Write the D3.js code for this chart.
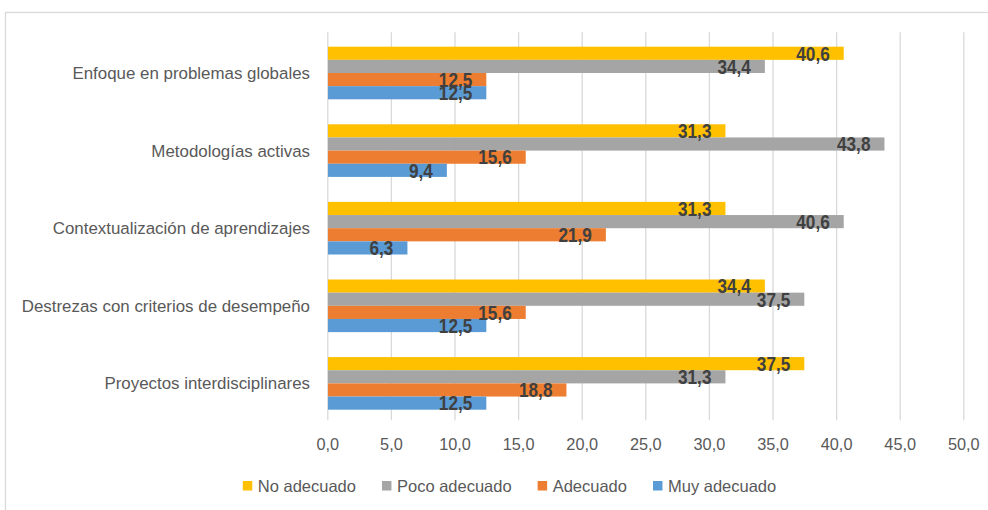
<!DOCTYPE html>
<html>
<head>
<meta charset="utf-8">
<script src="https://cdn.jsdelivr.net/npm/d3@7"></script>
<style>
  body { margin: 0; background: #fff; }
  svg { display: block; }
</style>
</head>
<body>
<div id="chart"></div>
<script>
// categories top to bottom
var categories = [
  "Enfoque en problemas globales",
  "Metodologías activas",
  "Contextualización de aprendizajes",
  "Destrezas con criterios de desempeño",
  "Proyectos interdisciplinares"
];
var seriesNames = ["No adecuado", "Poco adecuado", "Adecuado", "Muy adecuado"];
var seriesColors = ["#ffc000", "#a5a5a5", "#ed7d31", "#5b9bd5"];

// one array per series, same order as categories
var noAdecuado   = [40.6, 31.3, 31.3, 34.4, 37.5];
var pocoAdecuado = [34.4, 43.8, 40.6, 37.5, 31.3];
var adecuado     = [12.5, 15.6, 21.9, 15.6, 18.8];
var muyAdecuado  = [12.5,  9.4,  6.3, 12.5, 12.5];

var xTicks = [0, 5, 10, 15, 20, 25, 30, 35, 40, 45, 50];

var seriesValues = [noAdecuado, pocoAdecuado, adecuado, muyAdecuado];

var opt = {
  width: 988,
  height: 510,
  plot: {left: 327.3, right: 963.3, top: 34.2, bottom: 422.2}
};

var locale = d3.formatLocale({decimal: ",", thousands: ".", grouping: [3], currency: ["", ""]});
var fmt = locale.format(".1f");

var svg = d3.select("#chart").append("svg")
  .attr("width", opt.width)
  .attr("height", opt.height);

// chart frame (right/bottom edges fall outside the picture)
svg.append("rect")
  .attr("x", 5.5).attr("y", 12.5)
  .attr("width", 1000).attr("height", 520)
  .attr("fill", "none")
  .attr("stroke", "#d9d9d9")
  .attr("stroke-width", 1.3);

var x = d3.scaleLinear().domain([0, 50]).range([opt.plot.left, opt.plot.right]);
var y = d3.scaleBand().domain(categories)
  .range([opt.plot.top, opt.plot.bottom])
  .paddingInner(0.322).paddingOuter(0.161);
var ySub = d3.scaleBand().domain(seriesNames).range([0, y.bandwidth()]);

// gridlines + tick labels
var xAxis = d3.axisBottom(x).tickValues(xTicks).tickFormat(fmt)
  .tickSize(-(opt.plot.bottom - opt.plot.top)).tickPadding(18);
var gx = svg.append("g")
  .attr("transform", "translate(0," + (opt.plot.bottom - 2) + ")")
  .call(xAxis);
gx.select(".domain").remove();
gx.selectAll(".tick line").attr("stroke", "#d9d9d9").attr("stroke-width", 1.3);
gx.selectAll(".tick text")
  .attr("fill", "#595959")
  .style("font-family", "'Liberation Sans', Arial, sans-serif")
  .style("font-size", "16.3px");

// category labels
svg.append("g").selectAll("text")
  .data(categories).enter()
  .append("text")
  .attr("x", 310)
  .attr("y", function(d) { return y(d) + y.bandwidth() / 2; })
  .attr("dy", "0.35em")
  .attr("text-anchor", "end")
  .attr("fill", "#595959")
  .style("font-family", "'Liberation Sans', Arial, sans-serif")
  .style("font-size", "16.9px")
  .text(function(d) { return d; });

// bars
var rows = [];
categories.forEach(function(c, i) {
  seriesNames.forEach(function(s, j) {
    rows.push({cat: c, series: s, color: seriesColors[j], value: seriesValues[j][i]});
  });
});

var gBars = svg.append("g");
gBars.selectAll("rect")
  .data(rows).enter()
  .append("rect")
  .attr("x", x(0) + 0.7)
  .attr("y", function(d) { return y(d.cat) + ySub(d.series); })
  .attr("width", function(d) { return x(d.value) - x(0) - 0.7; })
  .attr("height", ySub.bandwidth())
  .attr("fill", function(d) { return d.color; });

// value labels, drawn after all bars so they sit on top
// (no narrow face installed, so squeeze the bold sans horizontally)
gBars.selectAll("text")
  .data(rows).enter()
  .append("text")
  .attr("transform", function(d) {
    var tx = x(d.value) - 14,
        ty = y(d.cat) + ySub(d.series) + ySub.bandwidth() / 2 + 7.3;
    return "translate(" + tx + "," + ty + ") scale(0.86,1)";
  })
  .attr("text-anchor", "end")
  .attr("fill", "#404040")
  .style("font-family", "'Liberation Sans', Arial, sans-serif")
  .style("font-weight", "bold")
  .style("font-size", "20px")
  .text(function(d) { return fmt(d.value); });

// legend
var legend = svg.append("g").attr("transform", "translate(0,491.5)");
var items = legend.selectAll("g")
  .data(seriesNames).enter()
  .append("g");
items.append("rect")
  .attr("y", -10.5)
  .attr("width", 9.5).attr("height", 9.5)
  .attr("fill", function(d, i) { return seriesColors[i]; });
items.append("text")
  .attr("x", 15)
  .attr("fill", "#595959")
  .style("font-family", "'Liberation Sans', Arial, sans-serif")
  .style("font-size", "16.5px")
  .text(function(d) { return d; });

var gap = 26, pos = 0, widths = [];
items.each(function() {
  var w = 15 + d3.select(this).select("text").node().getComputedTextLength();
  widths.push(w);
});
var total = d3.sum(widths) + gap * (widths.length - 1);
var start = 509.5 - total / 2;
items.attr("transform", function(d, i) {
  var t = "translate(" + (start + pos) + ",0)";
  pos += widths[i] + gap;
  return t;
});
</script>
</body>
</html>
